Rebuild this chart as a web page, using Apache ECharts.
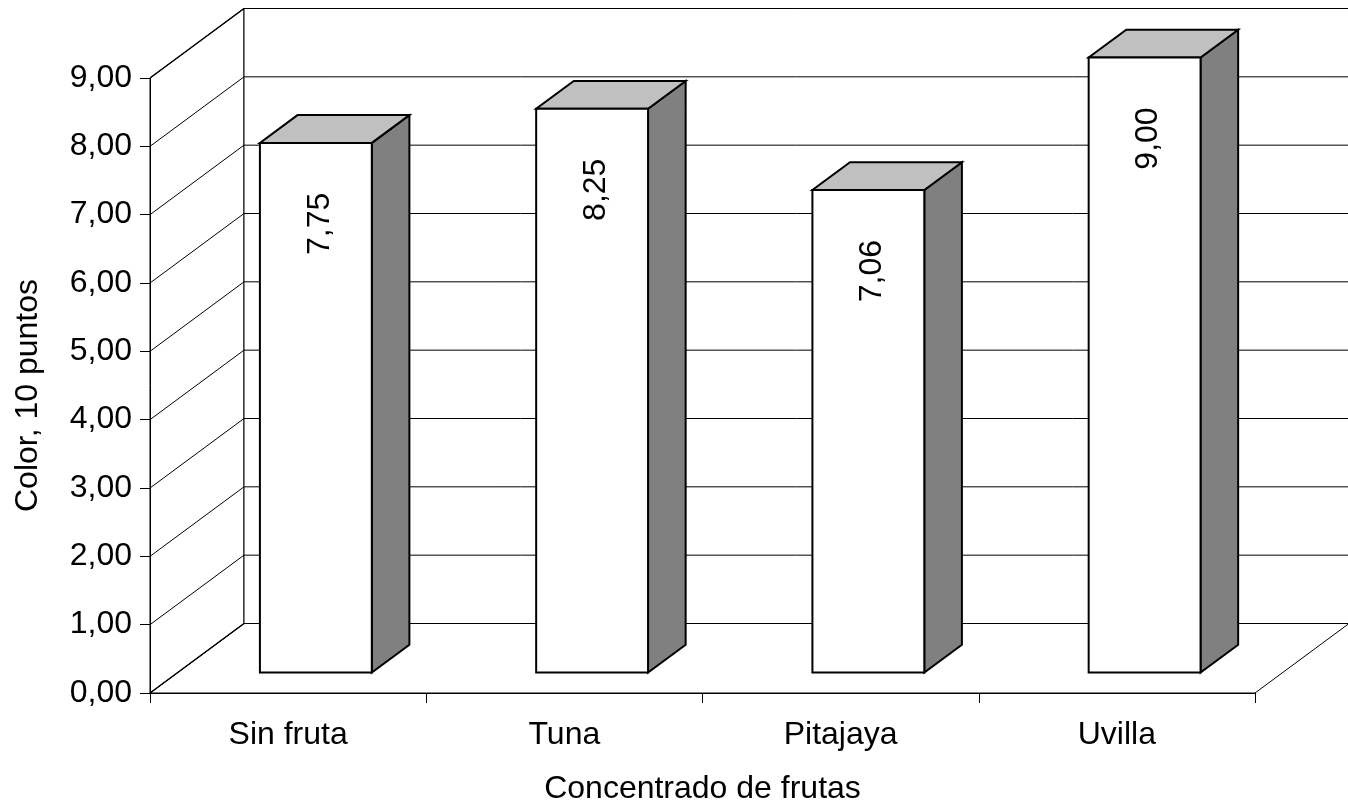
<!DOCTYPE html>
<html>
<head>
<meta charset="utf-8">
<script src="https://cdn.jsdelivr.net/npm/echarts@6/dist/echarts.min.js"></script>
<style>
  html, body { margin: 0; padding: 0; background: #fff; }
  #chart { width: 1348px; height: 810px; }
</style>
</head>
<body>
<div id="chart"></div>
<script>
// Chart data
const categories = ['Sin fruta', 'Tuna', 'Pitajaya', 'Uvilla'];
const colorScores = [7.75, 8.25, 7.06, 9.00];
const yTickValues = [0, 1, 2, 3, 4, 5, 6, 7, 8, 9];
const xAxisTitle = 'Concentrado de frutas';
const yAxisTitle = 'Color, 10 puntos';

// 3D look: depth of the box (pixels) and the bar placement inside it
const FONT_FAMILY = '"Liberation Sans", Arial, sans-serif';
const FONT_SIZE = 32;
const DEPTH_X = 94;
const DEPTH_Y = 69.5;
const BAR_FRONT = 0.295;   // fraction of depth before the bar's front face
const BAR_DEPTH = 0.40;    // fraction of depth the bar occupies
const BAR_WIDTH = 0.405;   // fraction of the category band
const LABEL_DROP = 81;     // label centre below the bar top

const fmt = v => v.toFixed(2).replace('.', ',');

function renderWalls(params, api) {
  const cs = params.coordSys;
  const left = cs.x;
  const right = cs.x + cs.width;
  const y0 = api.coord([0, yTickValues[0]])[1];
  const yTop = api.coord([0, yTickValues[yTickValues.length - 1]])[1];
  const stroke = { stroke: '#000', lineWidth: 1 };
  const heavy = { stroke: '#000', lineWidth: 1.5 };
  const children = [];
  // floor
  children.push({
    type: 'polygon',
    shape: { points: [[left, y0], [right, y0], [right + DEPTH_X, y0 - DEPTH_Y], [left + DEPTH_X, y0 - DEPTH_Y]] },
    style: Object.assign({ fill: '#fff' }, stroke)
  });
  // side wall
  children.push({
    type: 'polygon',
    shape: { points: [[left, y0], [left, yTop], [left + DEPTH_X, yTop - DEPTH_Y], [left + DEPTH_X, y0 - DEPTH_Y]] },
    style: Object.assign({ fill: '#fff' }, stroke)
  });
  // back wall
  children.push({
    type: 'rect',
    shape: { x: left + DEPTH_X, y: yTop - DEPTH_Y, width: cs.width, height: y0 - yTop },
    style: Object.assign({ fill: '#fff' }, stroke)
  });
  // gridlines on side and back walls
  yTickValues.forEach((v, i) => {
    const y = api.coord([0, v])[1];
    const edgeLine = (i === 0 || i === yTickValues.length - 1);
    children.push({ type: 'line', shape: { x1: left, y1: y, x2: left + DEPTH_X, y2: y - DEPTH_Y }, style: edgeLine ? heavy : stroke });
    children.push({ type: 'line', shape: { x1: left + DEPTH_X, y1: y - DEPTH_Y, x2: right + DEPTH_X, y2: y - DEPTH_Y }, style: stroke });
  });
  return { type: 'group', children: children };
}

function renderBar(params, api) {
  const idx = api.value(0);
  const v = api.value(1);
  const base = api.coord([idx, 0]);
  const top = api.coord([idx, v]);
  const band = api.size([1, 0])[0];
  const w = band * BAR_WIDTH;
  const sx = BAR_FRONT * DEPTH_X, sy = BAR_FRONT * DEPTH_Y;
  const bx = BAR_DEPTH * DEPTH_X, by = BAR_DEPTH * DEPTH_Y;
  const L = base[0] - w / 2 + sx;
  const R = base[0] + w / 2 + sx;
  const T = top[1] - sy;
  const B = base[1] - sy;
  const edge = { stroke: '#000', lineWidth: 2, lineJoin: 'miter' };
  return {
    type: 'group',
    children: [
      { type: 'polygon', shape: { points: [[R, T], [R + bx, T - by], [R + bx, B - by], [R, B]] },
        style: Object.assign({ fill: '#808080' }, edge) },
      { type: 'polygon', shape: { points: [[L, T], [R, T], [R + bx, T - by], [L + bx, T - by]] },
        style: Object.assign({ fill: '#c0c0c0' }, edge) },
      { type: 'rect', shape: { x: L, y: T, width: R - L, height: B - T },
        style: Object.assign({ fill: '#fff' }, edge) },
      { type: 'text', x: (L + R) / 2 + 4, y: T + LABEL_DROP, rotation: Math.PI / 2,
        style: { text: fmt(v), fill: '#000', fontSize: FONT_SIZE, fontFamily: FONT_FAMILY,
                 align: 'center', verticalAlign: 'middle' } }
    ]
  };
}

const chart = echarts.init(document.getElementById('chart'), null, { renderer: 'canvas' });
chart.setOption({
  animation: false,
  backgroundColor: '#fff',
  grid: { left: 150, right: 93, top: 78, bottom: 113.5, containLabel: false },
  xAxis: {
    type: 'category',
    data: categories,
    boundaryGap: true,
    name: xAxisTitle,
    nameLocation: 'middle',
    nameGap: 80,
    nameTextStyle: { color: '#000', fontSize: FONT_SIZE, fontFamily: FONT_FAMILY },
    axisLine: { lineStyle: { color: '#000', width: 1 } },
    axisTick: { show: true, length: 10, interval: 0, lineStyle: { color: '#000' } },
    axisLabel: { color: '#000', fontSize: FONT_SIZE, fontFamily: FONT_FAMILY, margin: 26, interval: 0 },
    splitLine: { show: false },
    z: 5
  },
  yAxis: {
    type: 'value',
    min: yTickValues[0],
    max: yTickValues[yTickValues.length - 1],
    interval: yTickValues[1] - yTickValues[0],
    name: yAxisTitle,
    nameLocation: 'middle',
    nameGap: 106,
    nameRotate: 90,
    nameTextStyle: { color: '#000', fontSize: FONT_SIZE, fontFamily: FONT_FAMILY, padding: [0, 20, 0, 0] },
    axisLine: { show: true, lineStyle: { color: '#000', width: 1 } },
    axisTick: { show: true, length: 10, lineStyle: { color: '#000' } },
    axisLabel: { color: '#000', fontSize: FONT_SIZE, fontFamily: FONT_FAMILY, margin: 18, formatter: fmt },
    splitLine: { show: false },
    z: 5
  },
  series: [
    {
      type: 'custom',
      name: 'walls',
      data: [[0, 0]],
      renderItem: renderWalls,
      silent: true,
      z: 1
    },
    {
      type: 'custom',
      name: 'Color',
      data: colorScores.map((v, i) => [i, v]),
      encode: { x: 0, y: 1 },
      renderItem: renderBar,
      z: 3
    }
  ]
});
</script>
</body>
</html>
